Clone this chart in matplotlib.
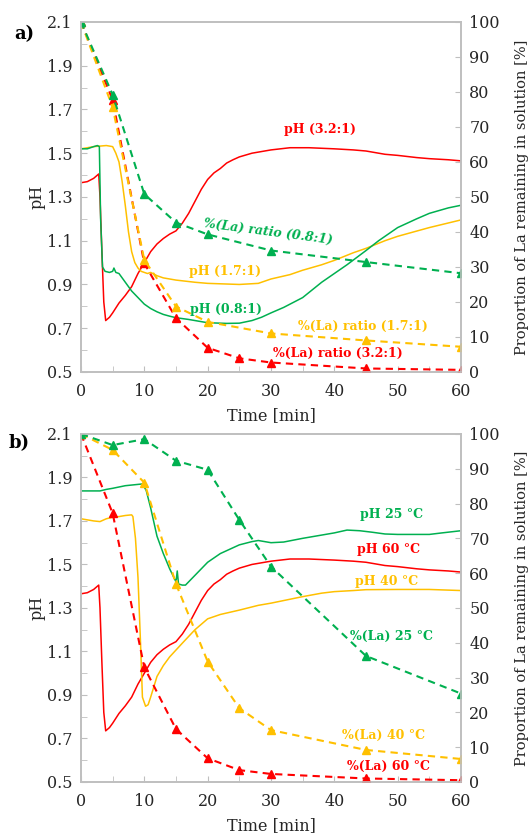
import numpy as np
import matplotlib
matplotlib.use("Agg")
import matplotlib.pyplot as plt
from matplotlib.ticker import MultipleLocator

plt.rcParams["font.family"] = ["DejaVu Serif"]

RED = "#FF0000"
GREEN = "#00B050"
GOLD = "#FFC000"
GRID = "#BFBFBF"

# ---- panel a: pH curves (left axis) ----
t_ph32 = [0, 1, 2, 2.8, 3.0, 3.3, 3.6, 3.9, 4.5, 5, 6, 7, 8, 9, 10, 11, 12, 13, 14, 15,
          16, 17, 18, 19, 20, 21, 22, 23, 24, 25, 27, 30, 33, 36, 40, 43, 45, 48, 50,
          53, 55, 58, 60]
ph_32 = [1.365, 1.37, 1.385, 1.405, 1.30, 1.05, 0.82, 0.735, 0.75, 0.77, 0.815, 0.85,
         0.89, 0.95, 1.00, 1.05, 1.085, 1.11, 1.13, 1.145, 1.18, 1.225, 1.28, 1.335,
         1.38, 1.41, 1.43, 1.455, 1.47, 1.483, 1.50, 1.515, 1.525, 1.525, 1.52, 1.515,
         1.51, 1.495, 1.49, 1.48, 1.475, 1.47, 1.465]

t_ph08 = [0, 1, 2, 2.6, 2.9, 3.1, 3.4, 3.8, 4.5, 5, 5.2, 5.5, 6, 7, 8, 9, 10, 11, 12,
          13, 14, 15, 17, 20, 23, 25, 27, 28.5, 30, 32, 35, 38, 40, 42, 45, 47, 50, 53,
          55, 58, 60]
ph_08 = [1.52, 1.52, 1.53, 1.535, 1.53, 1.2, 0.98, 0.96, 0.955, 0.96, 0.975, 0.955,
         0.95, 0.91, 0.87, 0.84, 0.81, 0.79, 0.775, 0.763, 0.755, 0.748, 0.74, 0.725,
         0.722, 0.723, 0.735, 0.75, 0.77, 0.795, 0.84, 0.91, 0.95, 0.99, 1.055, 1.10,
         1.16, 1.20, 1.225, 1.25, 1.262]

t_ph17 = [0, 2, 4, 5, 5.5, 6, 6.5, 7, 7.5, 8, 8.5, 9, 9.5, 10, 10.5, 11, 12, 13, 15,
          18, 20, 25, 28, 30, 33, 35, 38, 40, 43, 45, 48, 50, 55, 60]
ph_17 = [1.52, 1.53, 1.535, 1.53, 1.50, 1.46, 1.37, 1.26, 1.14, 1.05, 1.00, 0.975,
         0.96, 0.955, 0.95, 0.955, 0.94, 0.93, 0.92, 0.91, 0.905, 0.90, 0.905, 0.925,
         0.945, 0.965, 0.99, 1.01, 1.045, 1.065, 1.10, 1.12, 1.16, 1.195]

# ---- panel a: %(La) remaining (right axis) ----
t_la_a = [0, 5, 10, 15, 20, 30, 45, 60]
la_08 = [100, 79.2, 50.8, 42.7, 39.3, 34.7, 31.4, 28.2]
la_17 = [100, 75.6, 32.0, 18.7, 14.3, 11.0, 9.0, 7.2]
t_la_32 = [0, 5, 10, 15, 20, 25, 30, 45, 60]
la_32 = [100, 77.7, 31.0, 15.4, 6.9, 3.9, 2.7, 1.0, 0.6]

# ---- panel b: pH curves (left axis) ----
t_ph25 = [0, 3, 4, 5, 7, 9, 9.7, 10.3, 11, 12, 13, 14, 15, 15.2, 15.4, 16, 16.5, 17,
          18, 19, 20, 22, 25, 27, 28, 30, 32, 35, 38, 40, 42, 44, 46, 48, 50, 53, 55,
          57, 60]
ph_25 = [1.838, 1.838, 1.845, 1.85, 1.862, 1.868, 1.87, 1.84, 1.76, 1.63, 1.55, 1.48,
         1.42, 1.47, 1.41, 1.405, 1.405, 1.42, 1.45, 1.48, 1.51, 1.55, 1.59, 1.605,
         1.61, 1.60, 1.603, 1.62, 1.635, 1.645, 1.658, 1.655, 1.648, 1.64, 1.638,
         1.638, 1.638, 1.645, 1.655]

t_ph60 = t_ph32
ph_60 = ph_32

t_ph40 = [0, 2, 3, 4, 5, 6, 7, 8, 8.2, 8.6, 9.0, 9.4, 9.7, 10.2, 10.6, 11, 12, 13, 14,
          16, 18, 20, 22, 25, 28, 30, 33, 35, 38, 40, 43, 45, 50, 55, 60]
ph_40 = [1.71, 1.70, 1.697, 1.71, 1.717, 1.72, 1.725, 1.728, 1.72, 1.62, 1.44, 1.14,
         0.89, 0.848, 0.855, 0.89, 0.985, 1.035, 1.075, 1.138, 1.20, 1.25, 1.27, 1.29,
         1.312, 1.322, 1.34, 1.352, 1.368, 1.375, 1.38, 1.384, 1.385, 1.385, 1.38]

# ---- panel b: %(La) remaining (right axis) ----
t_la_b = [0, 5, 10, 15, 20, 25, 30, 45, 60]
la_25 = [100, 96.8, 98.5, 92.3, 89.7, 75.3, 61.9, 36.2, 25.4]
la_40 = [100, 95.4, 86.0, 56.9, 34.6, 21.2, 14.9, 9.2, 6.6]
la_60 = [100, 77.2, 32.9, 15.2, 6.8, 3.4, 2.3, 1.0, 0.5]


def style_axes(ax, ax2):
    ax.set_xlim(0, 60)
    ax.set_ylim(0.5, 2.1)
    ax2.set_ylim(0, 100)
    ax.xaxis.set_major_locator(MultipleLocator(10))
    ax.xaxis.set_minor_locator(MultipleLocator(5))
    ax.set_yticks(np.arange(0.5, 2.11, 0.2))
    ax.yaxis.set_minor_locator(MultipleLocator(0.1))
    ax2.yaxis.set_major_locator(MultipleLocator(10))
    for a in (ax, ax2):
        for s in a.spines.values():
            s.set_color(GRID)
            s.set_linewidth(1.2)
    ax.tick_params(axis="both", which="both", direction="in", length=4,
                   color=GRID, labelsize=11.5, labelcolor="#262626")
    ax.tick_params(axis="x", which="major", pad=8)
    ax.tick_params(axis="y", which="major", pad=6)
    ax2.tick_params(axis="y", which="both", direction="in", length=4,
                    color=GRID, labelsize=11.5, labelcolor="#262626", pad=6)
    ax.set_xlabel("Time [min]", fontsize=11.5, color="#262626", labelpad=5)
    ax.set_ylabel("pH", fontsize=11.5, color="#262626", labelpad=1)
    ax2.set_ylabel("Proportion of La remaining in solution [%]", fontsize=10.5,
                   color="#262626", labelpad=11)


def dashed(ax2, t, v, c):
    ax2.plot(t, v, color=c, ls=(0, (3.5, 2.5)), lw=1.5, marker="^", ms=5.5,
             markeredgecolor=c, markerfacecolor=c)


fig = plt.figure(figsize=(5.3, 8.34), dpi=100)
axa = fig.add_axes([0.1528, 0.5540, 0.717, 0.4197])
axa2 = axa.twinx()
axb = fig.add_axes([0.1528, 0.0624, 0.717, 0.4173])
axb2 = axb.twinx()

# panel a
axa.plot(t_ph32, ph_32, color=RED, lw=1.1)
axa.plot(t_ph17, ph_17, color=GOLD, lw=1.1)
axa.plot(t_ph08, ph_08, color=GREEN, lw=1.1)
dashed(axa2, t_la_32, la_32, RED)
dashed(axa2, t_la_a, la_17, GOLD)
dashed(axa2, t_la_a, la_08, GREEN)
style_axes(axa, axa2)

tk = dict(fontsize=9, fontweight="bold", ha="center", va="center")
axa.text(37.7, 1.61, "pH (3.2:1)", color=RED, **tk)
axa.text(29.6, 1.14, "%(La) ratio (0.8:1)", color=GREEN, rotation=-7.5,
         style="italic", **tk)
axa.text(22.7, 0.96, "pH (1.7:1)", color=GOLD, **tk)
axa.text(22.9, 0.785, "pH (0.8:1)", color=GREEN, **tk)
axa.text(44.5, 0.71, "%(La) ratio (1.7:1)", color=GOLD, **tk)
axa.text(40.5, 0.585, "%(La) ratio (3.2:1)", color=RED, **tk)
fig.text(0.045, 0.959, "a)", fontsize=13, fontweight="bold", ha="center", va="center")

# panel b
axb.plot(t_ph60, ph_60, color=RED, lw=1.1)
axb.plot(t_ph40, ph_40, color=GOLD, lw=1.1)
axb.plot(t_ph25, ph_25, color=GREEN, lw=1.1)
dashed(axb2, t_la_b, la_60, RED)
dashed(axb2, t_la_b, la_40, GOLD)
dashed(axb2, t_la_b, la_25, GREEN)
style_axes(axb, axb2)

axb.text(49.0, 1.73, "pH 25 °C", color=GREEN, **tk)
axb.text(48.6, 1.57, "pH 60 °C", color=RED, **tk)
axb.text(48.3, 1.42, "pH 40 °C", color=GOLD, **tk)
axb.text(49.1, 1.17, "%(La) 25 °C", color=GREEN, **tk)
axb.text(47.7, 0.715, "%(La) 40 °C", color=GOLD, **tk)
axb.text(48.6, 0.57, "%(La) 60 °C", color=RED, **tk)
fig.text(0.037, 0.469, "b)", fontsize=13, fontweight="bold", ha="center", va="center")

fig.savefig("out.png", dpi=100)
